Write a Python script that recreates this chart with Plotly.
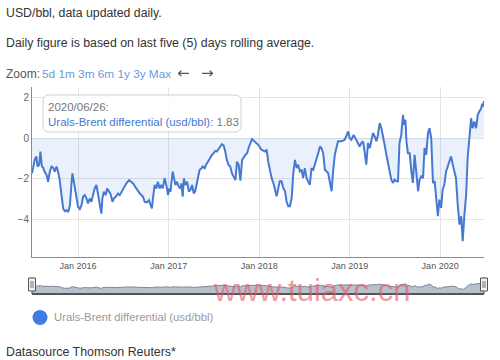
import plotly.graph_objects as go

# ---------------- data ----------------
dates = [
    "2015-06-29", "2015-07-11", "2015-07-17", "2015-07-21", "2015-07-28", "2015-08-02", "2015-08-08",
    "2015-08-13", "2015-08-20", "2015-08-27", "2015-09-02", "2015-09-09", "2015-09-16", "2015-09-22",
    "2015-09-29", "2015-10-06", "2015-10-12", "2015-10-19", "2015-10-26", "2015-11-02", "2015-11-08",
    "2015-11-15", "2015-11-22", "2015-11-29", "2015-12-05", "2015-12-09", "2015-12-15", "2015-12-23",
    "2016-01-01", "2016-01-08", "2016-01-15", "2016-01-21", "2016-01-28", "2016-02-04", "2016-02-10",
    "2016-02-17", "2016-02-24", "2016-03-01", "2016-03-08", "2016-03-15", "2016-03-22", "2016-03-28",
    "2016-04-04", "2016-04-08", "2016-04-14", "2016-04-22", "2016-04-27", "2016-05-05", "2016-05-10",
    "2016-05-19", "2016-05-24", "2016-06-01", "2016-06-10", "2016-06-17", "2016-06-24", "2016-07-03",
    "2016-07-14", "2016-07-25", "2016-08-03", "2016-08-10", "2016-08-23", "2016-09-06", "2016-09-19",
    "2016-09-26", "2016-10-05", "2016-10-13", "2016-10-19", "2016-10-25", "2016-10-29", "2016-11-05",
    "2016-11-12", "2016-11-18", "2016-11-25", "2016-12-02", "2016-12-08", "2016-12-15", "2016-12-22",
    "2016-12-29",
    "2017-01-03", "2017-01-08", "2017-01-12", "2017-01-17", "2017-01-22", "2017-01-28", "2017-02-03",
    "2017-02-10", "2017-02-17", "2017-02-21", "2017-02-26", "2017-03-03", "2017-03-09", "2017-03-16",
    "2017-03-23", "2017-03-29", "2017-04-05", "2017-04-12", "2017-04-18", "2017-04-25", "2017-04-29",
    "2017-05-05", "2017-05-13", "2017-05-18", "2017-05-26", "2017-05-31", "2017-06-08", "2017-06-18",
    "2017-06-24", "2017-07-01", "2017-07-08", "2017-07-14", "2017-07-21", "2017-07-28", "2017-08-03",
    "2017-08-10", "2017-08-17", "2017-08-23", "2017-08-30", "2017-09-06", "2017-09-13", "2017-09-27",
    "2017-10-03", "2017-10-10", "2017-10-17", "2017-10-24", "2017-11-06", "2017-11-13", "2017-11-20",
    "2017-12-03", "2017-12-28",
    "2018-01-10", "2018-01-24", "2018-01-31", "2018-02-06", "2018-02-20", "2018-03-01", "2018-03-12",
    "2018-03-19", "2018-03-25", "2018-04-01", "2018-04-08", "2018-04-15", "2018-04-21", "2018-04-28",
    "2018-05-05", "2018-05-12", "2018-05-18", "2018-05-25", "2018-06-01", "2018-06-07", "2018-06-14",
    "2018-06-21", "2018-06-27", "2018-07-04", "2018-07-11", "2018-07-17", "2018-07-24", "2018-07-31",
    "2018-08-07", "2018-08-13", "2018-08-20", "2018-08-27", "2018-09-03", "2018-09-09", "2018-09-16",
    "2018-09-23", "2018-10-06", "2018-10-13", "2018-10-20", "2018-10-26", "2018-11-02", "2018-11-15",
    "2018-11-29", "2018-12-12", "2018-12-26",
    "2019-01-01", "2019-01-08", "2019-01-17", "2019-01-28", "2019-02-04", "2019-02-10", "2019-02-17",
    "2019-02-24", "2019-03-02", "2019-03-09", "2019-03-16", "2019-03-23", "2019-03-29", "2019-04-05",
    "2019-04-12", "2019-04-19", "2019-04-25", "2019-05-02", "2019-05-09", "2019-05-15", "2019-05-22",
    "2019-05-29", "2019-06-05", "2019-06-11", "2019-06-18", "2019-06-25", "2019-07-01", "2019-07-08",
    "2019-07-15", "2019-07-21", "2019-07-28", "2019-08-04", "2019-08-08", "2019-08-14", "2019-08-18",
    "2019-08-24", "2019-08-31", "2019-09-07", "2019-09-13", "2019-09-20", "2019-09-27", "2019-10-04",
    "2019-10-10", "2019-10-17", "2019-10-24", "2019-10-30", "2019-11-06", "2019-11-13", "2019-11-19",
    "2019-11-26", "2019-12-03", "2019-12-10", "2019-12-16", "2019-12-23", "2019-12-29",
    "2020-01-05", "2020-01-11", "2020-01-18", "2020-01-25", "2020-02-01", "2020-02-07", "2020-02-14",
    "2020-02-21", "2020-02-28", "2020-03-05", "2020-03-12", "2020-03-19", "2020-03-26", "2020-04-01",
    "2020-04-08", "2020-04-15", "2020-04-21", "2020-04-28", "2020-05-05", "2020-05-11", "2020-05-18",
    "2020-05-25", "2020-06-01", "2020-06-07", "2020-06-14", "2020-06-19", "2020-06-23", "2020-06-26",
]

values = [
    -1.74, -1.02, -0.91, -1.40, -1.32, -0.66, -1.40, -1.45, -1.69, -1.82, -2.15, -1.65, -1.40, -1.45,
    -1.65, -1.40, -1.65, -2.07, -2.81, -3.47, -3.60, -3.55, -3.64, -3.31, -2.31, -1.74, -2.15, -2.81,
    -3.39, -3.50, -3.31, -2.89, -2.81, -2.98, -3.22, -2.98, -3.14, -2.81, -2.48, -2.31, -2.81, -3.31,
    -3.72, -2.98, -2.64, -2.81, -2.48, -2.64, -2.73, -3.14, -2.98, -2.89, -2.73, -2.81, -2.64, -2.48,
    -2.23, -2.07, -2.15, -2.23, -2.48, -2.73, -2.89, -3.14, -3.17, -3.06, -3.27, -3.47, -2.98, -2.31,
    -2.48, -2.15, -2.48, -2.31, -2.48, -1.98, -2.31, -2.81,
    -2.48, -2.64, -2.15, -1.65, -1.98, -2.31, -2.15, -2.40, -2.48, -2.23, -2.89, -1.98, -2.31, -2.15,
    -2.64, -2.56, -2.31, -2.73, -2.61, -2.15, -1.82, -1.57, -1.49, -1.40, -1.49, -1.32, -1.16, -0.91,
    -0.83, -0.74, -0.63, -0.66, -0.50, -0.41, -0.30, -0.36, -0.66, -1.07, -1.32, -1.40, -1.74, -2.07,
    -1.16, -1.32, -2.10, -1.07, -0.83, -0.74, -0.45, -0.05, -0.33,
    -0.57, -0.66, -0.57, -1.15, -1.97, -2.30, -2.87, -2.46, -2.13, -2.13, -2.46, -2.62, -3.11, -3.36,
    -3.36, -2.95, -1.80, -1.07, -1.48, -1.31, -1.64, -1.56, -1.97, -1.48, -1.97, -2.13, -2.30, -1.48,
    -1.56, -1.31, -1.07, -0.74, -0.41, -0.49, -0.74, -1.56, -1.72, -2.13, -2.62, -1.64, -0.82, -0.16,
    -0.16, -0.08, 0.33,
    0.00, -0.08, 0.16, -0.08, -0.25, -0.41, -0.25, -0.16, -0.66, -1.31, -0.25, -0.49, -0.16, 0.25,
    0.08, -0.16, 0.16, 0.74, 0.49, 0.16, -0.33, -0.82, -1.23, -1.64, -2.05, -2.21, -2.05, -2.13,
    -2.13, -0.25, 0.16, 1.15, 0.66, 0.90, -0.16, -0.74, -0.74, -1.64, -2.21, -0.82, -1.80, -2.62,
    -2.05, -1.89, -1.97, -0.49, -0.82, 0.25, 0.49, 0.00, -2.21, -2.13, -2.95, -3.85, -3.03,
    -3.44, -2.54, -2.30, -1.64, -1.39, -1.15, -0.90, -1.31, -1.72, -1.97, -3.28, -4.26, -3.85, -5.08,
    -3.77, -2.79, -0.98, 0.00, 0.98, 0.49, 0.82, 0.49, 1.15, 1.31, 1.45, 1.70, 1.55, 1.83,
]
assert len(dates) == len(values)

series_name = "Urals-Brent differential (usd/bbl)"
x_ticks = ["2016-01-01", "2017-01-01", "2018-01-01", "2019-01-01", "2020-01-01"]
y_ticks = [-4, -2, 0, 2]
zoom_buttons = "5d 1m 3m 6m 1y 3y Max"
tooltip_date = "2020/06/26"
tooltip_value = values[-1]

# ---------------- layout helpers ----------------
W, H = 500, 360
FONT = "Liberation Sans, Arial, sans-serif"
BLUE = "#4679d1"


def px(x):
    return x / W


def py(y):
    return 1 - y / H


L, R = 32, 484            # plot area left/right in pixels
TOP, BOT = 87, 257        # main plot top/bottom
NTOP, NBOT = 280, 294     # navigator top/bottom

fig = go.Figure()

# main series
fig.add_trace(go.Scatter(
    x=dates, y=values, mode="lines", name=series_name,
    line=dict(color=BLUE, width=2), fill="tozeroy",
    fillcolor="rgba(70,130,225,0.11)", xaxis="x", yaxis="y",
    hoverinfo="skip", showlegend=False,
))

# navigator: baseline + mini series
nav_floor = -9.5
fig.add_trace(go.Scatter(
    x=[dates[0], dates[-1]], y=[nav_floor, nav_floor], mode="lines",
    line=dict(width=0, color="rgba(0,0,0,0)"), xaxis="x2", yaxis="y2",
    hoverinfo="skip", showlegend=False,
))
fig.add_trace(go.Scatter(
    x=dates, y=values, mode="lines", line=dict(color="#7a879c", width=1),
    fill="tonexty", fillcolor="#b7c0cd", xaxis="x2", yaxis="y2",
    hoverinfo="skip", showlegend=False,
))

shapes = []
annotations = []

# navigator bottom line
shapes.append(dict(type="line", xref="paper", yref="paper",
                   x0=px(L), x1=px(R), y0=py(NBOT), y1=py(NBOT),
                   line=dict(color="#555", width=2)))
# navigator handles
for hx in (L, R):
    shapes.append(dict(type="line", xref="paper", yref="paper",
                       x0=px(hx), x1=px(hx), y0=py(NBOT), y1=py(NTOP - 3),
                       line=dict(color="#555", width=1)))
    shapes.append(dict(type="rect", xref="paper", yref="paper",
                       x0=px(hx - 3.5), x1=px(hx + 3.5), y0=py(291), y1=py(278),
                       fillcolor="#f2f2f2", line=dict(color="#555", width=1)))
    for dx in (-1, 1):
        shapes.append(dict(type="line", xref="paper", yref="paper",
                           x0=px(hx + dx), x1=px(hx + dx), y0=py(288), y1=py(281),
                           line=dict(color="#777", width=1)))

# tooltip box (rounded rectangle)
tx0, tx1, ty0, ty1, r = 43, 241, 95, 132, 6
rx, ry = r / W, r / H
x0p, x1p, y0p, y1p = px(tx0), px(tx1), py(ty1), py(ty0)
path = (f"M {x0p+rx},{y1p} L {x1p-rx},{y1p} Q {x1p},{y1p} {x1p},{y1p-ry} "
        f"L {x1p},{y0p+ry} Q {x1p},{y0p} {x1p-rx},{y0p} L {x0p+rx},{y0p} "
        f"Q {x0p},{y0p} {x0p},{y0p+ry} L {x0p},{y1p-ry} Q {x0p},{y1p} {x0p+rx},{y1p} Z")
shapes.append(dict(type="path", xref="paper", yref="paper", path=path,
                   fillcolor="rgba(255,255,255,0.85)", line=dict(color="#d0d0d0", width=1)))
annotations.append(dict(
    xref="paper", yref="paper", x=px(46), y=py(99), xanchor="left", yanchor="top",
    showarrow=False, align="left", font=dict(family=FONT, size=11.5, color="#777"),
    text=f"{tooltip_date}:<br><span style='color:{BLUE}'>{series_name}</span>: {tooltip_value:.2f}",
))

# legend
shapes.append(dict(type="circle", xref="paper", yref="paper",
                   x0=px(32.5), x1=px(47.5), y0=py(325), y1=py(310),
                   fillcolor="#3f7be0", line=dict(width=0)))
annotations.append(dict(xref="paper", yref="paper", x=px(52), y=py(317),
                        xanchor="left", yanchor="middle", showarrow=False,
                        text=series_name, font=dict(family=FONT, size=11.3, color="#9a9a9a")))

# header texts
annotations += [
    dict(xref="paper", yref="paper", x=px(4), y=py(13), xanchor="left", yanchor="middle",
         showarrow=False, text="USD/bbl, data updated daily.",
         font=dict(family=FONT, size=12.3, color="#333")),
    dict(xref="paper", yref="paper", x=px(4), y=py(43), xanchor="left", yanchor="middle",
         showarrow=False, text="Daily figure is based on last five (5) days rolling average.",
         font=dict(family=FONT, size=12.3, color="#333")),
    dict(xref="paper", yref="paper", x=px(4), y=py(74), xanchor="left", yanchor="middle",
         showarrow=False, text="Zoom:", font=dict(family=FONT, size=12, color="#555")),
    dict(xref="paper", yref="paper", x=px(40), y=py(74), xanchor="left", yanchor="middle",
         showarrow=False, text=zoom_buttons, font=dict(family=FONT, size=11.8, color="#6a9ade")),
    dict(xref="paper", yref="paper", x=px(175), y=py(73), xanchor="left", yanchor="middle",
         showarrow=False, text="\u2190", font=dict(family="DejaVu Sans", size=15, color="#555")),
    dict(xref="paper", yref="paper", x=px(199), y=py(73), xanchor="left", yanchor="middle",
         showarrow=False, text="\u2192", font=dict(family="DejaVu Sans", size=15, color="#555")),
    dict(xref="paper", yref="paper", x=px(4), y=py(352), xanchor="left", yanchor="middle",
         showarrow=False, text="Datasource Thomson Reuters*",
         font=dict(family=FONT, size=12.4, color="#333")),
    # watermark
    dict(xref="paper", yref="paper", x=px(311), y=py(290), xanchor="center", yanchor="middle",
         showarrow=False, text="www.tuiaxc.cn",
         font=dict(family=FONT, size=31, color="rgba(228,90,100,0.62)")),
]

fig.update_layout(
    width=W, height=H, margin=dict(l=0, r=0, t=0, b=0),
    paper_bgcolor="white", plot_bgcolor="white", showlegend=False,
    font=dict(family=FONT),
    xaxis=dict(domain=[px(L), px(R)], anchor="y", type="date",
               range=[dates[0], dates[-1]], tickvals=x_ticks, tickformat="%b %Y",
               showgrid=True, gridcolor="#e4e4e4", gridwidth=1,
               showline=True, linecolor="#8a8a8a", linewidth=1, ticks="",
               tickfont=dict(family=FONT, size=9, color="#555"), zeroline=False),
    yaxis=dict(domain=[py(BOT), py(TOP)], anchor="x", range=[-5.86, 2.52],
               tickvals=y_ticks, showgrid=True, gridcolor="#e4e4e4", gridwidth=1,
               zeroline=False, showline=True, linecolor="#8a8a8a", linewidth=1, ticks="",
               tickfont=dict(family=FONT, size=10, color="#666")),
    xaxis2=dict(domain=[px(L), px(R)], anchor="y2", type="date",
                range=[dates[0], dates[-1]], visible=False),
    yaxis2=dict(domain=[py(NBOT), py(NTOP)], anchor="x2", range=[nav_floor, 5], visible=False),
    shapes=shapes, annotations=annotations,
)

fig.write_html("out.html")
